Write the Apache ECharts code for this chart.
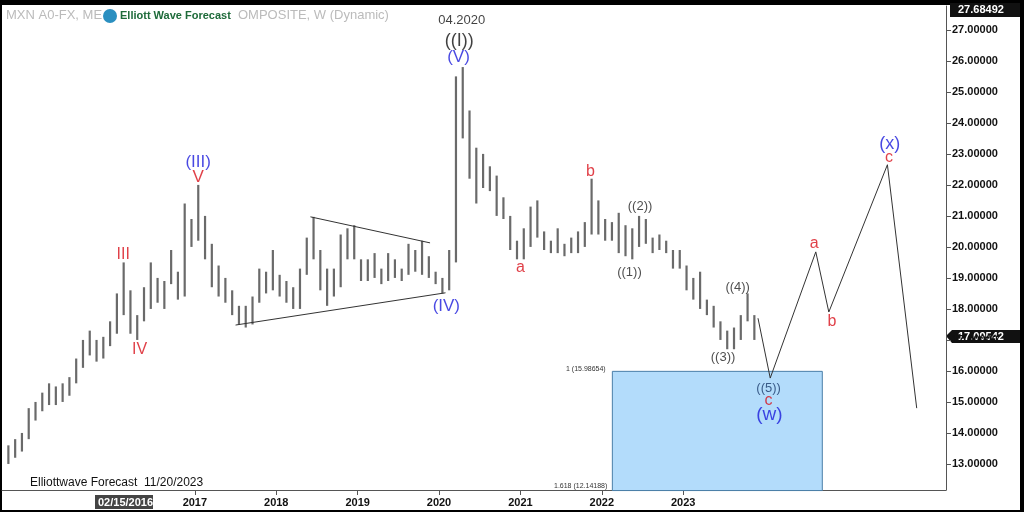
<!DOCTYPE html>
<html lang="en">
<head>
<meta charset="UTF-8">
<script src="https://cdn.jsdelivr.net/npm/echarts@6/dist/echarts.min.js"></script>
<style>
  html, body { margin: 0; padding: 0; background: #000; }
  #chart { width: 1024px; height: 512px; }
</style>
</head>
<body>
<div id="chart"></div>
<script>
// monthly high / low, Sep 2014 .. Nov 2023
const startYear = 2014, startMonth = 9;
const highs = [13.6, 13.8, 14.0, 14.8,
  15.0, 15.3, 15.6, 15.5, 15.6, 15.8, 16.4, 17.0, 17.3, 17.0, 17.1, 17.6,
  18.5, 19.5, 18.6, 17.8, 18.7, 19.5, 19.0, 18.9, 19.9, 19.2, 21.4, 20.9,
  22.0, 21.0, 20.1, 19.4, 19.0, 18.6, 18.1, 18.1, 18.4, 19.3, 19.2, 19.9,
  19.1, 18.9, 18.7, 19.3, 20.3, 20.97, 19.9, 19.3, 19.3, 20.4, 20.6, 20.7,
  19.6, 19.6, 19.8, 19.3, 19.8, 19.6, 19.3, 20.1, 19.9, 20.2, 19.7, 19.2,
  19.0, 19.9, 25.5, 25.8, 24.4, 23.2, 23.0, 22.6, 22.3, 21.6, 21.0, 20.2,
  20.6, 21.3, 21.5, 20.5, 20.2, 20.6, 20.1, 20.3, 20.5, 20.8, 22.2, 21.5,
  20.9, 20.8, 21.1, 20.7, 20.6, 21.0, 20.9, 20.3, 20.4, 20.2, 19.9, 19.9,
  19.4, 19.0, 19.2, 18.3, 18.1, 17.6, 17.3, 17.4, 17.8, 18.5, 17.8];
const lows = [13.0, 13.2, 13.4, 13.8,
  14.4, 14.7, 14.9, 14.9, 15.0, 15.2, 15.6, 16.1, 16.5, 16.3, 16.4, 16.8,
  17.2, 17.8, 17.2, 17.0, 17.6, 18.0, 18.2, 18.0, 18.8, 18.3, 18.4, 20.0,
  20.2, 19.6, 18.7, 18.4, 18.2, 17.8, 17.5, 17.4, 17.5, 18.2, 18.5, 18.6,
  18.4, 18.2, 18.0, 18.0, 19.1, 19.6, 18.6, 18.1, 18.4, 18.7, 19.6, 19.6,
  18.9, 18.9, 19.0, 18.8, 18.9, 19.0, 18.9, 19.1, 19.2, 19.1, 19.0, 18.8,
  18.5, 18.6, 19.5, 23.5, 22.2, 21.4, 21.9, 21.8, 21.0, 20.9, 19.9, 19.6,
  19.6, 20.0, 20.3, 19.9, 19.8, 19.8, 19.7, 19.8, 19.8, 20.0, 20.4, 20.4,
  20.2, 20.2, 19.8, 19.7, 19.6, 20.0, 20.1, 19.8, 19.9, 19.8, 19.3, 19.3,
  18.6, 18.3, 18.0, 17.8, 17.4, 17.0, 16.7, 16.7, 17.0, 17.6, 17.0];

// projected path (year, price)
const projection = [[2023.92, 17.7], [2024.07, 15.77], [2024.63, 19.84], [2024.79, 17.9], [2025.51, 22.65], [2025.87, 14.8]];
const triUpper = [[2018.42, 20.97], [2019.89, 20.13]];
const triLower = [[2017.5, 17.48], [2020.08, 18.52]];
const fibBox = { x0: 2022.13, x1: 2024.71, top: 15.98654, bottom: 12.14188 };

// wave labels: year, price, text, colour, size
const waveLabels = [
  [2020.28, 27.32, '04.2020', '#111', 13],
  [2020.25, 26.65, '((I))', '#111', 18],
  [2020.24, 26.10, '(V)', '#1a1adb', 17],
  [2017.04, 22.74, '(III)', '#1a1adb', 17],
  [2017.04, 22.23, 'V', '#d8101a', 17],
  [2016.12, 19.74, 'III', '#d8101a', 16],
  [2016.32, 16.70, 'IV', '#d8101a', 16],
  [2020.09, 18.10, '(IV)', '#1a1adb', 17],
  [2021.00, 19.32, 'a', '#d8101a', 16],
  [2021.86, 22.42, 'b', '#d8101a', 16],
  [2022.34, 19.19, '((1))', '#222', 13],
  [2022.47, 21.29, '((2))', '#222', 13],
  [2023.49, 16.42, '((3))', '#222', 13],
  [2023.67, 18.70, '((4))', '#222', 13],
  [2024.05, 15.45, '((5))', '#1a3a6a', 13],
  [2024.05, 15.03, 'c', '#d8101a', 16],
  [2024.06, 14.58, '(w)', '#1a1adb', 19],
  [2024.61, 20.10, 'a', '#d8101a', 16],
  [2024.83, 17.58, 'b', '#d8101a', 16],
  [2025.54, 23.32, '(x)', '#1a1adb', 18],
  [2025.53, 22.87, 'c', '#d8101a', 16]
];
const yearTicks = [2017, 2018, 2019, 2020, 2021, 2022, 2023];
const priceTicks = [13, 14, 15, 16, 17, 18, 19, 20, 21, 22, 23, 24, 25, 26, 27];

const bars = highs.map((h, i) => {
  const m = startMonth - 1 + i;
  return [startYear + (m + 0.5) / 12, lows[i], h];
});

const chart = echarts.init(document.getElementById('chart'));
chart.setOption({
  backgroundColor: '#fff',
  animation: false,
  grid: { left: 2, right: 78, top: 6, bottom: 22 },
  xAxis: {
    type: 'value', min: 2014.63, max: 2026.23,
    axisLine: { show: true, lineStyle: { color: '#555' } },
    axisTick: { show: true, customValues: yearTicks, lineStyle: { color: '#555' } },
    splitLine: { show: false },
    axisLabel: { customValues: yearTicks, color: '#111', fontWeight: 'bold', fontSize: 11, margin: 7,
      fontFamily: 'Liberation Sans', formatter: v => String(v) }
  },
  yAxis: {
    type: 'value', position: 'right', min: 12.16, max: 27.77,
    axisLine: { show: true, lineStyle: { color: '#555' } },
    axisTick: { show: true, customValues: priceTicks, lineStyle: { color: '#555' } },
    splitLine: { show: false },
    axisLabel: { customValues: priceTicks, color: '#111', fontWeight: 'bold', fontSize: 11, margin: 6,
      fontFamily: 'Liberation Sans', formatter: v => v.toFixed(5) }
  },
  series: [
    {
      type: 'custom', silent: true, z: 1,
      data: [[fibBox.x0, fibBox.top, fibBox.x1, fibBox.bottom]],
      renderItem: (params, api) => {
        const p0 = api.coord([api.value(0), api.value(1)]);
        const p1 = api.coord([api.value(2), api.value(3)]);
        return {
          type: 'rect',
          shape: { x: p0[0], y: p0[1], width: p1[0] - p0[0], height: p1[1] - p0[1] },
          style: { fill: '#b3dcfb', stroke: '#4a7fa8', lineWidth: 1 }
        };
      }
    },
    {
      type: 'custom', silent: true, z: 2,
      data: bars,
      renderItem: (params, api) => {
        const lo = api.coord([api.value(0), api.value(1)]);
        const hi = api.coord([api.value(0), api.value(2)]);
        return {
          type: 'line',
          shape: { x1: lo[0], y1: lo[1], x2: hi[0], y2: hi[1] },
          style: { stroke: '#6a6a6a', lineWidth: 2.2 }
        };
      }
    },
    { type: 'line', data: projection, symbol: 'none', lineStyle: { color: '#333', width: 1 }, z: 3 },
    { type: 'line', data: triUpper, symbol: 'none', lineStyle: { color: '#333', width: 1 }, z: 3 },
    { type: 'line', data: triLower, symbol: 'none', lineStyle: { color: '#333', width: 1 }, z: 3 },
    {
      type: 'scatter', symbolSize: 0, z: 5,
      data: waveLabels.map(d => ({
        value: [d[0], d[1]],
        label: { show: true, position: 'inside', formatter: d[2], color: d[3], fontSize: d[4],
          fontFamily: 'Liberation Sans' }
      }))
    }
  ],
  graphic: [
    { type: 'rect', left: 0, top: 0, shape: { width: 1024, height: 5 }, style: { fill: '#000' } },
    { type: 'rect', left: 0, top: 510, shape: { width: 1024, height: 2 }, style: { fill: '#000' } },
    { type: 'rect', left: 0, top: 0, shape: { width: 2, height: 512 }, style: { fill: '#000' } },
    { type: 'rect', left: 1020, top: 0, shape: { width: 4, height: 512 }, style: { fill: '#000' } },
    { type: 'text', left: 6, top: 9, style: { text: 'MXN A0-FX, ME', fill: '#bbb', font: '13px Liberation Sans' } },
    { type: 'circle', shape: { cx: 110, cy: 16, r: 7 }, style: { fill: '#2a8fc0' } },
    { type: 'text', left: 120, top: 10, style: { text: 'Elliott Wave Forecast', fill: '#1e6b3a', font: 'bold 11px Liberation Sans' } },
    { type: 'text', left: 238, top: 9, style: { text: 'OMPOSITE, W (Dynamic)', fill: '#bbb', font: '13px Liberation Sans' } },
    { type: 'text', left: 30, top: 477, style: { text: 'Elliottwave Forecast  11/20/2023', fill: '#111', font: '12px Liberation Sans' } },
    { type: 'text', left: 566, top: 366, style: { text: '1 (15.98654)', fill: '#333', font: '7px Liberation Sans' } },
    { type: 'text', left: 554, top: 483, style: { text: '1.618 (12.14188)', fill: '#333', font: '7px Liberation Sans' } },
    { type: 'rect', left: 95, top: 495, shape: { width: 58, height: 14 }, style: { fill: '#444' } },
    { type: 'text', left: 98, top: 497, style: { text: '02/15/2016', fill: '#fff', font: 'bold 11px Liberation Sans' } },
    { type: 'rect', left: 950, top: 3, shape: { width: 70, height: 14 }, style: { fill: '#111' } },
    { type: 'text', left: 958, top: 4, style: { text: '27.68492', fill: '#fff', font: 'bold 11px Liberation Sans' } },
    { type: 'polygon', shape: { points: [[946, 336], [952, 330], [1020, 330], [1020, 343], [952, 343]] }, style: { fill: '#111' } },
    { type: 'text', left: 958, top: 331, style: { text: '17.09542', fill: '#fff', font: 'bold 11px Liberation Sans' } }
  ]
});
</script>
</body>
</html>
